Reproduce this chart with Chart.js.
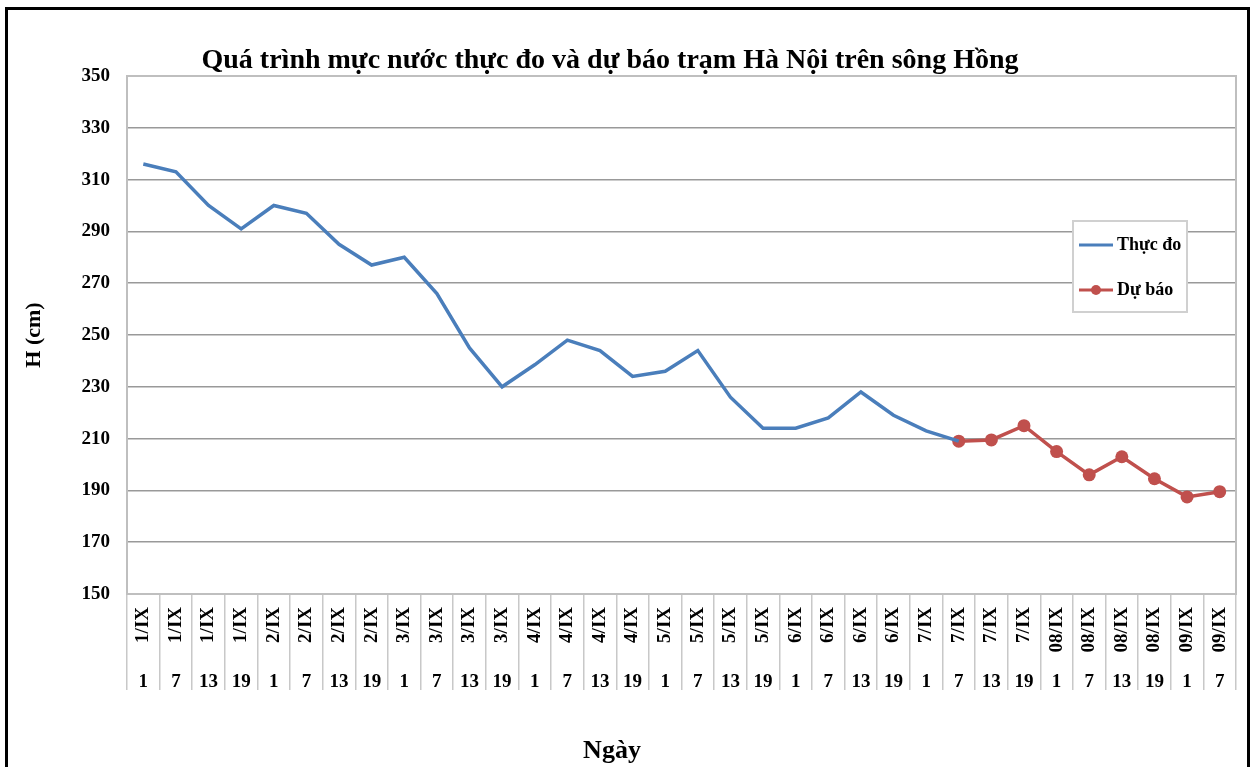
<!DOCTYPE html>
<html>
<head>
<meta charset="utf-8">
<title>Mực nước trạm Hà Nội</title>
<script src="https://cdn.jsdelivr.net/npm/chart.js@4.4.1/dist/chart.umd.min.js"></script>
<style>
html, body { margin: 0; padding: 0; background: #fff; overflow: hidden; }
#wrap { position: relative; width: 1256px; height: 767px; }
#frame { position: absolute; left: 5px; top: 7px; width: 1239px; height: 800px; border: 3px solid #000; pointer-events: none; }
canvas { position: absolute; left: 0; top: 0; }
</style>
</head>
<body>
<div id="wrap">
  <canvas id="level-chart"></canvas>
  <div id="frame"></div>
</div>
<script>
var chartTitle = 'Quá trình mực nước thực đo và dự báo trạm Hà Nội trên sông Hồng';
var xTitle = 'Ngày';
var yTitle = 'H (cm)';

var days = ['1/IX', '1/IX', '1/IX', '1/IX', '2/IX', '2/IX', '2/IX', '2/IX',
    '3/IX', '3/IX', '3/IX', '3/IX', '4/IX', '4/IX', '4/IX', '4/IX',
    '5/IX', '5/IX', '5/IX', '5/IX', '6/IX', '6/IX', '6/IX', '6/IX',
    '7/IX', '7/IX', '7/IX', '7/IX', '08/IX', '08/IX', '08/IX', '08/IX',
    '09/IX', '09/IX'];
var hours = ['1', '7', '13', '19', '1', '7', '13', '19',
    '1', '7', '13', '19', '1', '7', '13', '19',
    '1', '7', '13', '19', '1', '7', '13', '19',
    '1', '7', '13', '19', '1', '7', '13', '19',
    '1', '7'];

var thucDo = [316, 313, 300, 291, 300, 297, 285, 277,
    280, 266, 245, 230, 238.5, 248, 244, 234,
    236, 244, 226, 214, 214, 218, 228, 219,
    213, 209, null, null, null, null, null, null,
    null, null];
var duBao = [null, null, null, null, null, null, null, null,
    null, null, null, null, null, null, null, null,
    null, null, null, null, null, null, null, null,
    null, 209, 209.5, 215, 205, 196, 203, 194.5,
    187.5, 189.5];

var serif = 'Liberation Serif, Times New Roman, serif';

// plot frame, drawn under the lines
var plotFrame = {
    id: 'plotFrame',
    beforeDatasetsDraw: function(chart) {
        var a = chart.chartArea;
        var c = chart.ctx;
        c.save();
        c.strokeStyle = '#bfbfbf';
        c.lineWidth = 2;
        c.strokeRect(a.left, a.top, a.right - a.left, a.bottom - a.top);
        c.restore();
    }
};

// chart title, x title and the boxed legend
var extras = {
    id: 'extras',
    afterDraw: function(chart) {
        var c = chart.ctx;
        c.save();
        c.fillStyle = '#000';
        c.textAlign = 'center';
        c.textBaseline = 'alphabetic';
        c.font = 'bold 28px ' + serif;
        c.fillText(chartTitle, 610, 68);
        c.textBaseline = 'middle';
        c.font = 'bold 26px ' + serif;
        c.fillText(xTitle, 612, 751);

        // legend
        c.fillStyle = '#fff';
        c.fillRect(1073, 221, 114, 91);
        c.strokeStyle = '#d0d0d0';
        c.lineWidth = 2;
        c.strokeRect(1073, 221, 114, 91);
        var rows = [245, 290];
        chart.data.datasets.forEach(function(ds, i) {
            var y = rows[i];
            c.strokeStyle = ds.borderColor;
            c.lineWidth = 3;
            c.beginPath();
            c.moveTo(1079, y);
            c.lineTo(1113, y);
            c.stroke();
            if (ds.pointRadius > 0) {
                c.fillStyle = ds.borderColor;
                c.beginPath();
                c.arc(1096, y, 5, 0, Math.PI * 2);
                c.fill();
            }
            c.fillStyle = '#000';
            c.textAlign = 'left';
            c.textBaseline = 'middle';
            c.font = 'bold 18px ' + serif;
            c.fillText(ds.label, 1117, y);
        });
        c.restore();
    }
};

var ctx = document.getElementById('level-chart');
var chart = new Chart(ctx, {
    type: 'line',
    data: {
        labels: days,
        datasets: [
            {
                label: 'Thực đo',
                data: thucDo,
                borderColor: '#4a7ebb',
                borderWidth: 3.5,
                pointRadius: 0,
                tension: 0,
                spanGaps: false
            },
            {
                label: 'Dự báo',
                data: duBao,
                borderColor: '#c0504d',
                backgroundColor: '#c0504d',
                borderWidth: 3.5,
                pointRadius: 6.5,
                pointBorderWidth: 0,
                pointBackgroundColor: '#c0504d',
                tension: 0
            }
        ]
    },
    options: {
        responsive: true,
        maintainAspectRatio: false,
        animation: false,
        events: [],
        layout: { padding: { top: 76, right: 20, left: 0, bottom: 0 } },
        plugins: {
            legend: { display: false },
            title: { display: false },
            tooltip: { enabled: false }
        },
        scales: {
            x: {
                type: 'category',
                position: 'bottom',
                offset: true,
                grid: { drawOnChartArea: false, offset: true, tickLength: 96, color: '#c8c8c8', lineWidth: 1.5 },
                border: { display: false },
                ticks: {
                    autoSkip: false, minRotation: 90, maxRotation: 90, padding: -83, color: '#000',
                    font: { family: serif, size: 19, weight: 'bold' }
                },
                afterFit: function(s) { s.height = 66; }
            },
            x2: {
                type: 'category',
                position: 'bottom',
                labels: hours,
                offset: true,
                grid: { display: false },
                border: { display: false },
                ticks: {
                    autoSkip: false, maxRotation: 0, padding: 3, color: '#000',
                    font: { family: serif, size: 19, weight: 'bold' }
                },
                afterFit: function(s) { s.height = 107; }
            },
            y: {
                min: 150,
                max: 350,
                grid: {
                    drawTicks: false,
                    lineWidth: 1.5,
                    color: function(c) {
                        if (c.tick && (c.tick.value === 150 || c.tick.value === 350)) return 'rgba(0,0,0,0)';
                        return '#999';
                    }
                },
                border: { display: false },
                ticks: {
                    stepSize: 20, padding: 17, color: '#000',
                    font: { family: serif, size: 19, weight: 'bold' }
                },
                title: {
                    display: true, text: yTitle, color: '#000',
                    font: { family: serif, size: 22, weight: 'bold' },
                    padding: { top: 21, bottom: 0 }
                },
                afterFit: function(s) { s.width = 127; }
            }
        }
    },
    plugins: [plotFrame, extras]
});
</script>
</body>
</html>
